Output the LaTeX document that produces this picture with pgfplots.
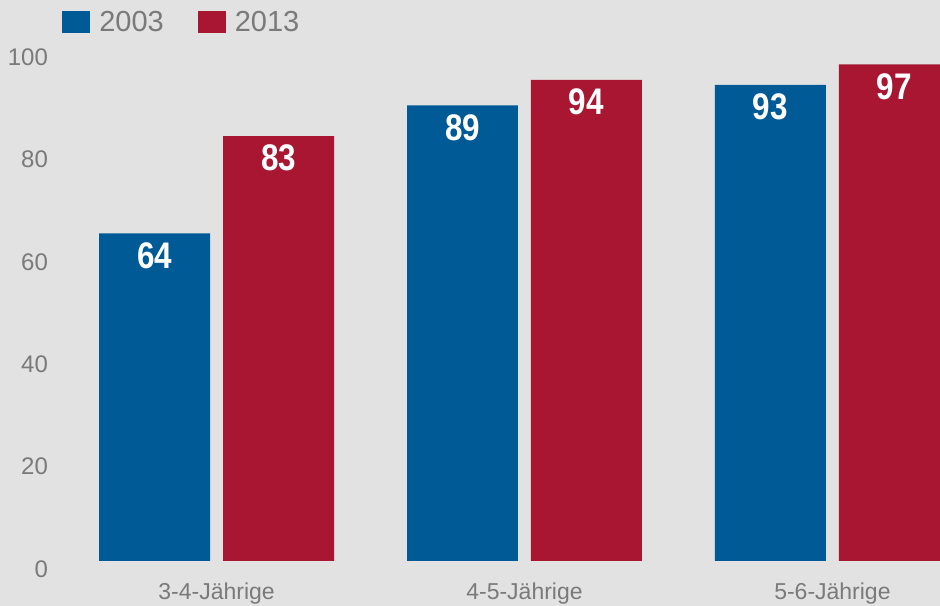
\documentclass[border=0pt]{standalone}
\usepackage{fontspec}
\setmainfont{Liberation Sans}
\newfontfamily\valfont[FakeStretch=0.85]{Liberation Sans}
\usepackage{pgfplots}
\pgfplotsset{compat=1.18}
\usetikzlibrary{backgrounds}
\definecolor{bg}{HTML}{E2E2E2}
\definecolor{cblue}{HTML}{005A96}
\definecolor{cred}{HTML}{A81632}
\definecolor{tgray}{HTML}{7A7A7A}
\begin{document}
\begin{tikzpicture}
\begin{axis}[
  name=ax,
  scale only axis, width=940pt, height=561pt,
  xmin=-0.7029, xmax=2.349, ymin=0, ymax=109.57,
  axis line style={draw=none}, major tick length=0pt,
  ytick={0,20,40,60,80,100},
  xtick={0,1,2}, xticklabels={3-4-Jährige,4-5-Jährige,5-6-Jährige},
  /pgf/number format/assume math mode=true,
  yticklabel style={font=\fontsize{24}{24}\selectfont, text=tgray, anchor=east, inner sep=0pt, xshift=48pt, yshift=-8pt},
  xticklabel style={font=\fontsize{23}{23}\selectfont, text=tgray, anchor=north, inner sep=0pt, yshift=-22pt},
  ybar, bar width=0.3604,
  nodes near coords,
  nodes near coords style={anchor=center, yshift=-22pt, font=\valfont\bfseries\fontsize{37}{37}\selectfont, text=white, /pgf/number format/assume math mode=true},
  legend columns=-1,
  legend style={at={(0,1)}, anchor=west, xshift=62pt, yshift=-22pt, draw=none, fill=none, inner sep=0pt,
    font=\fontsize{29}{29}\selectfont, text=tgray,
    /tikz/every even column/.append style={column sep=32pt}},
]
\addplot[fill=cblue, draw=none, bar shift=-0.2013,
  legend image code/.code={\fill[cblue] (0pt,-11pt) rectangle (28pt,11pt); \path (35pt,0pt);}]
  coordinates {(0,64) (1,89) (2,93)};
\addplot[fill=cred, draw=none, bar shift=0.2013,
  legend image code/.code={\fill[cred] (0pt,-11pt) rectangle (28pt,11pt); \path (35pt,0pt);}]
  coordinates {(0,83) (1,94) (2,97)};
\legend{2003,2013}
\end{axis}
\begin{scope}[on background layer]
\fill[bg] ([yshift=-45pt]ax.south west) rectangle (ax.north east);
\end{scope}
\end{tikzpicture}
\end{document}
